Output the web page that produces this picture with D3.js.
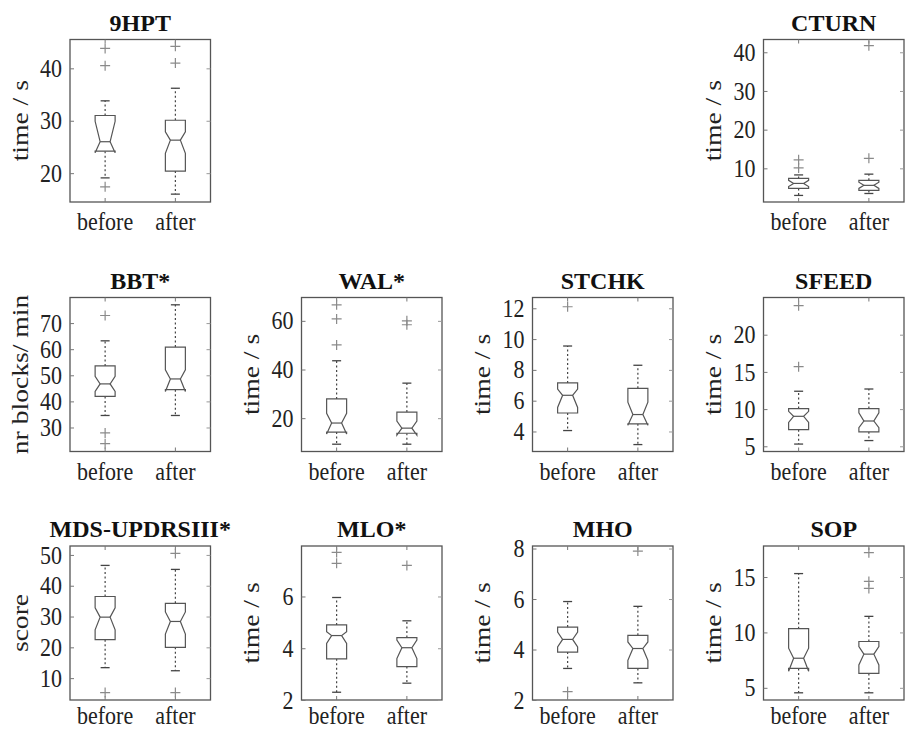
<!DOCTYPE html>
<html>
<head>
<meta charset="utf-8">
<script src="https://cdn.jsdelivr.net/npm/d3@7"></script>
<style>
  body { margin: 0; background: #fff; }
  svg { display: block; font-family: "Liberation Serif", "Times New Roman", serif; }
</style>
</head>
<body>
<div id="chart"></div>
<script>
const titles = ["9HPT", "CTURN", "BBT*", "WAL*", "STCHK", "SFEED", "MDS-UPDRSIII*", "MLO*", "MHO", "SOP"];
const yTitles = ["time / s", "time / s", "nr blocks/ min", "time / s", "time / s", "time / s", "score", "time / s", "time / s", "time / s"];
const groups = ["before", "after"];

const yDomains = [[14.5, 45.5], [1.3, 43.3], [20.8, 79.8], [6.3, 69.6], [2.7, 12.7],
                  [4.3, 25], [2.9, 52.9], [2, 7.95], [2, 8.1], [3.9, 17.8]];
const yTicks = [[20, 30, 40], [10, 20, 30, 40], [30, 40, 50, 60, 70], [20, 40, 60], [4, 6, 8, 10, 12],
                [5, 10, 15, 20], [10, 20, 30, 40, 50], [2, 4, 6], [2, 4, 6, 8], [5, 10, 15]];

// [before, after] for each panel
const q1      = [[24.2, 20.4], [4.8, 4.3], [41.9, 44.5], [14.3, 13.8], [5.2, 4.5], [7.24, 6.95], [22.5, 20.0], [3.59, 3.29], [3.9, 3.25], [6.75, 6.3]];
const medians = [[26.0, 26.3], [6.1, 5.6], [46.7, 48.6], [18.0, 15.9], [6.35, 5.1], [9.03, 8.4], [29.8, 28.4], [4.49, 4.02], [4.4, 4.04], [7.67, 8.04]];
const q3      = [[31.0, 30.1], [7.4, 6.9], [53.6, 60.8], [27.9, 22.5], [7.15, 6.8], [10.07, 10.07], [36.5, 34.3], [4.9, 4.41], [4.89, 4.56], [10.34, 9.18]];
const notchLo = [[23.9, 23.8], [5.3, 4.8], [43.8, 43.8], [13.5, 13.0], [5.56, 4.4], [8.2, 7.5], [25.7, 24.3], [4.19, 3.6], [4.1, 3.57], [6.5, 7.06]];
const notchHi = [[29.9, 27.9], [6.9, 6.4], [49.6, 52.1], [22.0, 18.8], [6.75, 5.9], [9.7, 9.5], [32.8, 31.5], [4.64, 4.32], [4.69, 4.3], [8.58, 8.73]];
const whiskLo = [[19.1, 16.0], [3.0, 3.5], [34.6, 34.6], [9.3, 9.3], [4.06, 3.15], [5.3, 5.77], [13.4, 12.4], [2.3, 2.65], [3.25, 2.68], [4.55, 4.55]];
const whiskHi = [[33.8, 36.2], [8.3, 8.5], [63.2, 77.0], [43.6, 34.4], [9.55, 8.3], [12.4, 12.7], [46.6, 45.3], [5.96, 5.06], [5.9, 5.71], [15.31, 11.45]];
const outliers = [
  [[43.8, 40.5, 17.4], [44.2, 41.0]],
  [[12.2, 10.1], [41.7, 12.6]],
  [[72.9, 27.9, 23.8], []],
  [[66.6, 60.8, 50.1], [60.0, 58.4]],
  [[12.1], []],
  [[23.9, 15.7], []],
  [[5.3], [50.5, 5.3]],
  [[7.7, 7.28], [7.2]],
  [[2.33], [7.9]],
  [[], [17.2, 14.6, 13.97]]
];

const width = 908, height = 730;
const fontStack = '"Liberation Serif", "Times New Roman", serif';
const colLeft = [70, 301.5, 532.5, 763.5];
const plotW = 140.5;
const rowTop = [39.5, 297.5, 546];
const rowBottom = [202, 451.5, 700];
const labelGap = [28, 28, 24];
const slots = [[0, 0], [0, 3], [1, 0], [1, 1], [1, 2], [1, 3], [2, 0], [2, 1], [2, 2], [2, 3]];
const stretch = 1.15;
const boxW = 20;

const svg = d3.select("#chart").append("svg")
  .attr("width", width)
  .attr("height", height);

titles.forEach((title, i) => {
  const [row, col] = slots[i];
  const left = colLeft[col], right = left + plotW;
  const top = rowTop[row], bottom = rowBottom[row];

  const x = d3.scaleBand().domain(groups).range([left, right]);
  const y = d3.scaleLinear().domain(yDomains[i]).range([bottom, top]);
  const cx = g => x(g) + x.bandwidth() / 2;

  const panel = svg.append("g");

  // frame
  panel.append("rect")
    .attr("x", left).attr("y", top)
    .attr("width", right - left).attr("height", bottom - top)
    .attr("fill", "none")
    .attr("stroke", "#555")
    .attr("stroke-width", 1.3);

  // y ticks left with labels
  const yAxis = panel.append("g")
    .attr("transform", `translate(${left},0)`)
    .call(d3.axisLeft(y).tickValues(yTicks[i]).tickFormat(d => d).tickSize(-4).tickPadding(8));
  yAxis.select(".domain").remove();
  yAxis.attr("font-size", 22).attr("font-family", fontStack);
  yAxis.selectAll(".tick line").attr("stroke", "#777");
  yAxis.selectAll(".tick text").attr("fill", "#222").attr("transform", `scale(1,${stretch})`);

  // y ticks right
  const yRight = panel.append("g")
    .attr("transform", `translate(${right},0)`)
    .call(d3.axisRight(y).tickValues(yTicks[i]).tickSize(-4).tickFormat(""));
  yRight.select(".domain").remove();
  yRight.selectAll(".tick line").attr("stroke", "#999");

  // x ticks top and bottom
  const xBottom = panel.append("g")
    .attr("transform", `translate(0,${bottom})`)
    .call(d3.axisBottom(x).tickSize(-4).tickFormat(""));
  xBottom.select(".domain").remove();
  xBottom.selectAll(".tick line").attr("stroke", "#777");
  const xTop = panel.append("g")
    .attr("transform", `translate(0,${top})`)
    .call(d3.axisTop(x).tickSize(-4).tickFormat(""));
  xTop.select(".domain").remove();
  xTop.selectAll(".tick line").attr("stroke", "#777");

  // x labels
  panel.selectAll(".xlab")
    .data(groups)
    .enter()
    .append("text")
    .attr("class", "xlab")
    .attr("transform", g => `translate(${cx(g)},${bottom + labelGap[row]}) scale(1,${stretch})`)
    .attr("text-anchor", "middle")
    .attr("font-size", 22)
    .attr("fill", "#222")
    .text(g => g);

  // title
  panel.append("text")
    .attr("x", (left + right) / 2)
    .attr("y", top - 9)
    .attr("text-anchor", "middle")
    .attr("font-size", 24)
    .attr("font-weight", "bold")
    .attr("fill", "#111")
    .text(title);

  // y title
  panel.append("text")
    .attr("transform", `translate(${left - 50},${(top + bottom) / 2}) scale(1,${stretch}) rotate(-90)`)
    .attr("text-anchor", "middle")
    .attr("dominant-baseline", "central")
    .attr("font-size", 24)
    .attr("fill", "#222")
    .text(yTitles[i]);

  groups.forEach((g, k) => {
    const c = cx(g);
    const L = c - boxW / 2, R = c + boxW / 2;
    const iL = c - boxW / 4, iR = c + boxW / 4;

    // whiskers
    panel.append("line")
      .attr("x1", c).attr("x2", c)
      .attr("y1", y(q3[i][k])).attr("y2", y(whiskHi[i][k]))
      .attr("stroke", "#444").attr("stroke-width", 1.2)
      .attr("stroke-dasharray", "2,2.5");
    panel.append("line")
      .attr("x1", c).attr("x2", c)
      .attr("y1", y(q1[i][k])).attr("y2", y(whiskLo[i][k]))
      .attr("stroke", "#444").attr("stroke-width", 1.2)
      .attr("stroke-dasharray", "2,2.5");
    [whiskHi[i][k], whiskLo[i][k]].forEach(v => {
      panel.append("line")
        .attr("x1", c - 4.5).attr("x2", c + 4.5)
        .attr("y1", y(v)).attr("y2", y(v))
        .attr("stroke", "#444").attr("stroke-width", 1.3);
    });

    // notched box
    const path = d3.path();
    path.moveTo(L, y(q3[i][k]));
    path.lineTo(L, y(notchHi[i][k]));
    path.lineTo(iL, y(medians[i][k]));
    path.lineTo(L, y(notchLo[i][k]));
    path.lineTo(L, y(q1[i][k]));
    path.lineTo(R, y(q1[i][k]));
    path.lineTo(R, y(notchLo[i][k]));
    path.lineTo(iR, y(medians[i][k]));
    path.lineTo(R, y(notchHi[i][k]));
    path.lineTo(R, y(q3[i][k]));
    path.closePath();
    panel.append("path")
      .attr("d", path.toString())
      .attr("fill", "#fff")
      .attr("stroke", "#555")
      .attr("stroke-width", 1.2);

    panel.append("line")
      .attr("x1", iL).attr("x2", iR)
      .attr("y1", y(medians[i][k])).attr("y2", y(medians[i][k]))
      .attr("stroke", "#555").attr("stroke-width", 1.2);

    // outliers
    panel.selectAll(null)
      .data(outliers[i][k])
      .enter()
      .append("path")
      .attr("transform", v => `translate(${c},${y(v)})`)
      .attr("d", "M-5,0H5M0,-5V5")
      .attr("stroke", "#8a8a8a")
      .attr("stroke-width", 1.2)
      .attr("fill", "none");
  });
});
</script>
</body>
</html>
